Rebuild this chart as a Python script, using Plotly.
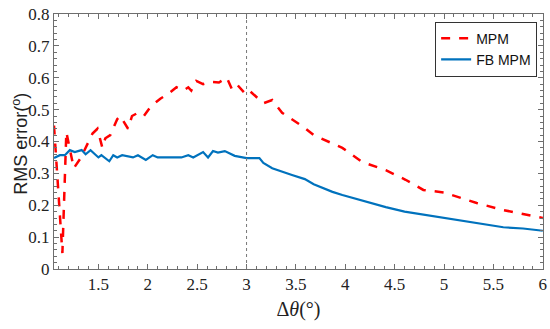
import plotly.graph_objects as go

# MPM (red dashed)
mpm_x = [1.05, 1.135, 1.175, 1.25, 1.32, 1.44, 1.49, 1.54, 1.57, 1.62, 1.69, 1.72, 1.80, 1.84, 1.90,
         1.96, 2.03, 2.13, 2.21, 2.29, 2.36, 2.41, 2.44, 2.49, 2.56, 2.64, 2.72, 2.80, 2.85, 2.90,
         2.98, 3.02, 3.17, 3.26, 3.36, 3.58, 3.68, 3.89, 3.97, 4.17, 4.41, 4.61, 4.79, 5.0, 5.33,
         5.6, 6.0]
mpm_y = [0.45, 0.05, 0.43, 0.316, 0.348, 0.425, 0.44, 0.38, 0.41, 0.42, 0.47, 0.48, 0.44, 0.48, 0.49,
         0.48, 0.51, 0.535, 0.55, 0.57, 0.56, 0.57, 0.56, 0.59, 0.58, 0.587, 0.585, 0.60, 0.565, 0.58,
         0.552, 0.562, 0.52, 0.53, 0.49, 0.445, 0.42, 0.39, 0.38, 0.336, 0.31, 0.28, 0.248, 0.24, 0.207,
         0.185, 0.16]

# FB MPM (blue solid)
fb_x = [1.05, 1.11, 1.16, 1.21, 1.26, 1.33, 1.37, 1.42, 1.50, 1.53, 1.61, 1.65, 1.69, 1.74, 1.85,
        1.90, 1.98, 2.05, 2.10, 2.20, 2.34, 2.41, 2.46, 2.56, 2.61, 2.66, 2.71, 2.78, 2.83, 2.88,
        3.0, 3.13, 3.17, 3.26, 3.46, 3.59, 3.68, 3.87, 3.97, 4.2, 4.41, 4.6, 4.82, 5.0, 5.26, 5.6,
        5.8, 6.0]
fb_y = [0.348, 0.357, 0.357, 0.373, 0.367, 0.373, 0.36, 0.373, 0.35, 0.357, 0.338, 0.357, 0.35, 0.357, 0.35,
        0.357, 0.342, 0.357, 0.35, 0.35, 0.35, 0.357, 0.35, 0.367, 0.35, 0.37, 0.365, 0.37, 0.362, 0.355,
        0.348, 0.348, 0.333, 0.316, 0.295, 0.282, 0.266, 0.242, 0.232, 0.212, 0.194, 0.18, 0.169, 0.16,
        0.148, 0.131, 0.127, 0.12]

x_ticks = [1.5, 2, 2.5, 3, 3.5, 4, 4.5, 5, 5.5, 6]
x_ticktext = ["1.5", "2", "2.5", "3", "3.5", "4", "4.5", "5", "5.5", "6"]
y_ticks = [0, 0.1, 0.2, 0.3, 0.4, 0.5, 0.6, 0.7, 0.8]
y_ticktext = ["0", "0.1", "0.2", "0.3", "0.4", "0.5", "0.6", "0.7", "0.8"]
marker_x = 3
y_title = "RMS error(<sup>o</sup>)"

fig = go.Figure()
fig.add_trace(go.Scatter(x=mpm_x, y=mpm_y, mode="lines", name="MPM",
                         line=dict(color="#FF0000", width=2.5, dash="dash")))
fig.add_trace(go.Scatter(x=fb_x, y=fb_y, mode="lines", name="FB MPM",
                         line=dict(color="#0072BD", width=2.2)))

fig.add_shape(type="line", x0=marker_x, x1=marker_x, y0=0, y1=1, xref="x", yref="paper",
              line=dict(color="#777777", width=1, dash="dot"))

axis_common = dict(showline=True, linecolor="#6e6e6e", linewidth=1, mirror="ticks",
                   ticks="inside", ticklen=5, tickcolor="#6e6e6e", showgrid=False, zeroline=False,
                   automargin=False,
                   tickfont=dict(family="Liberation Serif", size=17, color="#222"))

fig.update_xaxes(range=[1.05, 6.002], tickvals=x_ticks, ticktext=x_ticktext,
                 minor=dict(dtick=0.1, tick0=0, ticks="inside", ticklen=3, tickcolor="#6e6e6e"),
                 title=dict(text="Δ<i>θ</i>(°)", font=dict(family="Liberation Serif", size=20, color="#222"),
                            standoff=8),
                 **axis_common)
fig.update_yaxes(range=[0, 0.8], tickvals=y_ticks, ticktext=y_ticktext,
                 minor=dict(dtick=0.02, tick0=0, ticks="inside", ticklen=3, tickcolor="#6e6e6e"),
                 **axis_common)

fig.add_annotation(text=y_title, xref="paper", yref="paper", x=-0.07, y=0.49,
                   xanchor="center", yanchor="middle", textangle=-90, showarrow=False,
                   font=dict(family="Liberation Sans", size=18, color="#222"))

fig.update_layout(
    width=550, height=329,
    margin=dict(l=54, r=7, t=14, b=60),
    plot_bgcolor="white", paper_bgcolor="white",
    showlegend=True,
    legend=dict(x=0.988, y=0.97, xanchor="right", yanchor="top",
                bordercolor="#333", borderwidth=1, bgcolor="white",
                font=dict(family="Liberation Sans", size=14, color="#111"),
                tracegroupgap=0, itemwidth=30),
)

fig.write_html("out.html", config={"displayModeBar": False},
               post_script="document.body.style.margin='0';")
